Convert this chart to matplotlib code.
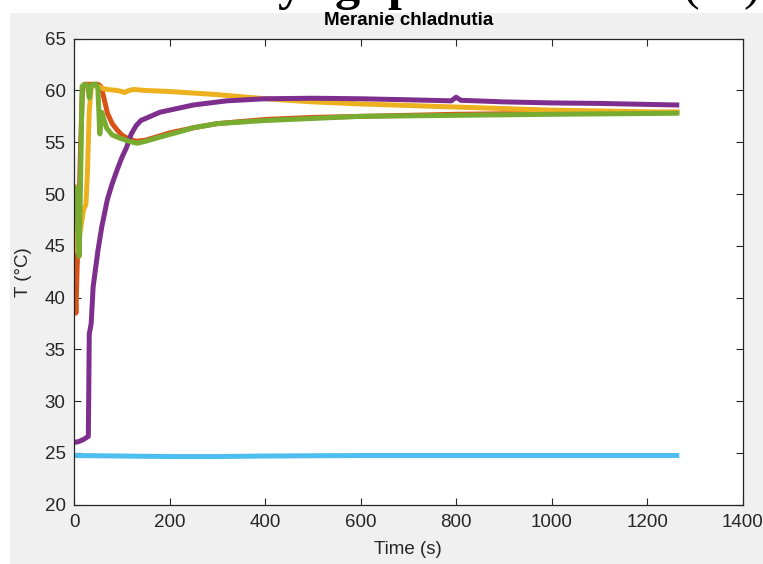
import matplotlib.pyplot as plt
from matplotlib.patches import Rectangle

plt.rcParams['font.family'] = ['Liberation Sans', 'DejaVu Sans']

# Data
t_blue = [0, 100, 200, 300, 400, 600, 800, 1000, 1262]
T_blue = [24.75, 24.7, 24.65, 24.65, 24.7, 24.75, 24.75, 24.75, 24.75]

t_orange = [0, 2, 4, 6, 10, 14, 18, 22, 30, 40, 50, 56, 60, 65, 70, 80, 90, 100, 115,
            130, 150, 200, 250, 300, 400, 500, 600, 800, 1000, 1262]
T_orange = [45, 41, 38.5, 42, 48, 55, 60.3, 60.6, 60.6, 60.6, 60.6, 60.4, 59.8, 58.8, 57.8,
            56.8, 56.2, 55.7, 55.3, 55.1, 55.2, 55.9, 56.4, 56.8, 57.2, 57.4, 57.5, 57.7,
            57.8, 57.9]

t_yellow = [0, 3, 6, 10, 15, 20, 25, 28, 32, 36, 40, 50, 60, 70, 90, 100, 105, 115, 125,
            150, 200, 300, 400, 500, 600, 800, 1000, 1262]
T_yellow = [48.5, 46, 44.5, 45.5, 47, 48.5, 49, 52, 58, 60.3, 60.5, 60.4, 60.2, 60.1, 60.0,
            59.9, 59.8, 60.0, 60.1, 60.0, 59.9, 59.6, 59.2, 58.9, 58.7, 58.4, 58.1, 57.9]

t_purple = [0, 10, 20, 30, 32, 36, 40, 50, 58, 70, 80, 90, 100, 110, 120, 130, 140, 180,
            250, 320, 400, 500, 600, 700, 790, 800, 810, 900, 1000, 1100, 1262]
T_purple = [26.0, 26.1, 26.3, 26.6, 36.5, 37.5, 41.0, 44.5, 46.8, 49.5, 51.0, 52.3, 53.5,
            54.5, 55.8, 56.6, 57.1, 57.9, 58.6, 59.0, 59.2, 59.25, 59.2, 59.1, 59.0, 59.35,
            59.05, 58.9, 58.8, 58.75, 58.6]

t_green = [0, 3, 5, 8, 11, 14, 17, 22, 28, 32, 36, 40, 46, 50, 54, 58, 62, 68, 80, 96, 115,
           132, 150, 180, 220, 250, 300, 400, 500, 600, 800, 1000, 1262]
T_green = [50.7, 49.0, 50.5, 47, 44, 52, 60.4, 60.6, 60.5, 59.3, 60.5, 60.6, 60.6, 60.2,
           55.8, 57.9, 57.3, 56.4, 55.7, 55.4, 55.1, 54.9, 55.1, 55.5, 56.0, 56.4, 56.8,
           57.1, 57.3, 57.5, 57.6, 57.7, 57.8]

fig = plt.figure(figsize=(7.63, 5.64), dpi=100, facecolor='white')
fig.patches.append(Rectangle((10 / 763, 0), 1 - 10 / 763, 551 / 564, transform=fig.transFigure,
                             facecolor='#f0f0f0', edgecolor='none', zorder=-10))

# cut-off heading of the surrounding document: only the descenders show in the top strip
for ch, x, w in [('y', 290, 'bold'), ('g', 347, 'bold'), ('p', 401, 'bold'),
                 ('(', 691, 'normal'), (')', 752, 'normal')]:
    fig.text(x / 763, 565 / 564, ch, fontsize=36, fontweight=w, family='Liberation Serif',
             ha='center', va='baseline', color='black')

ax = fig.add_axes([74 / 763, 59.3 / 564, 668.7 / 763, 466 / 564])
ax.set_facecolor('white')

lw = 3.6
ax.plot(t_blue, T_blue, color='#4DBEEE', lw=lw)
ax.plot(t_orange, T_orange, color='#D95319', lw=lw)
ax.plot(t_yellow, T_yellow, color='#EDB120', lw=lw)
ax.plot(t_purple, T_purple, color='#7E2F8E', lw=lw)
ax.plot(t_green, T_green, color='#77AC30', lw=lw)

ax.set_xlim(0, 1400)
ax.set_ylim(20, 65)
ax.set_xticks(range(0, 1401, 200))
ax.set_yticks(range(20, 66, 5))
ax.tick_params(direction='in', top=True, right=True, length=5, width=0.8,
               colors='#262626', labelsize=13.5)
ax.tick_params(axis='x', pad=7)
ax.tick_params(axis='y', pad=6)
for s in ax.spines.values():
    s.set_color('#262626')
    s.set_linewidth(0.9)

ax.set_title('Meranie chladnutia', fontsize=13.5, fontweight='bold', color='black', pad=10)
ax.set_xlabel('Time (s)', fontsize=13.5, color='#262626', labelpad=7)
ax.set_ylabel('T (°C)', fontsize=13.5, color='#262626', labelpad=9)

fig.savefig('out.png', dpi=100, facecolor=fig.get_facecolor())
